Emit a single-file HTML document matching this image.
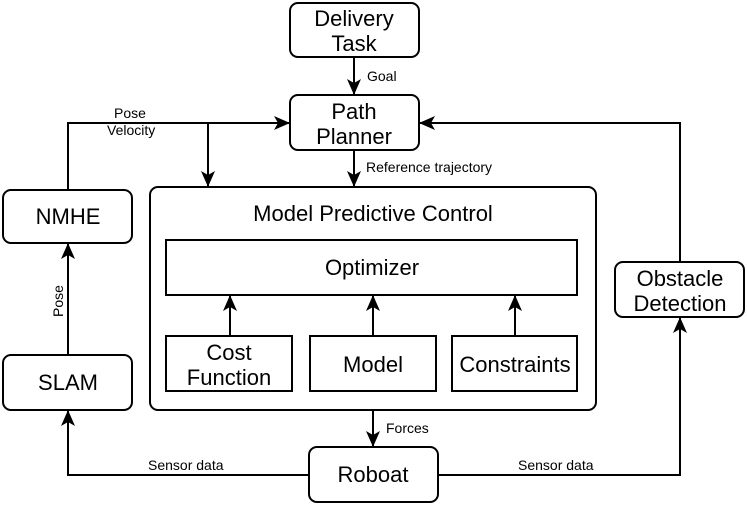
<!DOCTYPE html>
<html><head><meta charset="utf-8"><style>
html,body{margin:0;padding:0;background:#fff;width:747px;height:505px;overflow:hidden}
text{font-family:"Liberation Sans",Arial,sans-serif;fill:#000}
.b{font-size:22px;text-anchor:middle}
.s{font-size:14px}
</style></head><body>
<svg width="747" height="505" viewBox="0 0 747 505" xmlns="http://www.w3.org/2000/svg">
<defs>
<marker id="a" viewBox="0 0 16 14" refX="15" refY="7" markerWidth="16" markerHeight="14" markerUnits="userSpaceOnUse" orient="auto">
<path d="M0,0 L16,7 L0,14 L4,7 Z" fill="#000"/>
</marker>
</defs>
<g fill="none" stroke="#000" stroke-width="2">
<rect x="290" y="3" width="129" height="54" rx="8"/>
<rect x="290" y="95" width="129" height="55" rx="8"/>
<rect x="3" y="190" width="129" height="53" rx="8"/>
<rect x="3" y="355" width="129" height="55" rx="8"/>
<rect x="615" y="262" width="129" height="55" rx="8"/>
<rect x="309" y="447" width="129" height="55" rx="8"/>
<rect x="150" y="187" width="446" height="223" rx="8"/>
<rect x="166" y="240" width="411" height="55"/>
<rect x="166" y="336" width="126" height="55"/>
<rect x="310" y="336" width="126" height="55"/>
<rect x="452" y="336" width="125" height="55"/>
<path d="M354,57 V94" marker-end="url(#a)"/>
<path d="M68,190 V123 H289" marker-end="url(#a)"/>
<path d="M208,123 V186" marker-end="url(#a)"/>
<path d="M354,150 V186" marker-end="url(#a)"/>
<path d="M680,262 V123 H420" marker-end="url(#a)"/>
<path d="M230,336 V296" marker-end="url(#a)"/>
<path d="M373,336 V296" marker-end="url(#a)"/>
<path d="M515,336 V296" marker-end="url(#a)"/>
<path d="M373,410 V446" marker-end="url(#a)"/>
<path d="M309,475 H68 V411" marker-end="url(#a)"/>
<path d="M438,475 H680 V318" marker-end="url(#a)"/>
<path d="M68,355 V244" marker-end="url(#a)"/>
</g>
<text class="b" x="354" y="26">Delivery</text>
<text class="b" x="354" y="51">Task</text>
<text class="b" x="354" y="119">Path</text>
<text class="b" x="354" y="144">Planner</text>
<text class="b" x="68" y="224">NMHE</text>
<text class="b" x="68" y="390">SLAM</text>
<text class="b" x="680" y="286">Obstacle</text>
<text class="b" x="680" y="311">Detection</text>
<text class="b" x="373" y="482">Roboat</text>
<text class="b" x="373" y="221">Model Predictive Control</text>
<text class="b" x="372" y="275">Optimizer</text>
<text class="b" x="229" y="360">Cost</text>
<text class="b" x="229" y="385">Function</text>
<text class="b" x="373" y="372">Model</text>
<text class="b" x="515" y="372">Constraints</text>
<text class="s" x="367" y="81">Goal</text>
<text class="s" x="114" y="118">Pose</text>
<text class="s" x="107" y="135">Velocity</text>
<text class="s" x="366" y="172">Reference trajectory</text>
<text class="s" x="386" y="433">Forces</text>
<text class="s" x="148" y="470">Sensor data</text>
<text class="s" x="518" y="470">Sensor data</text>
<text class="s" transform="translate(63,317) rotate(-90)">Pose</text>
</svg>
</body></html>
